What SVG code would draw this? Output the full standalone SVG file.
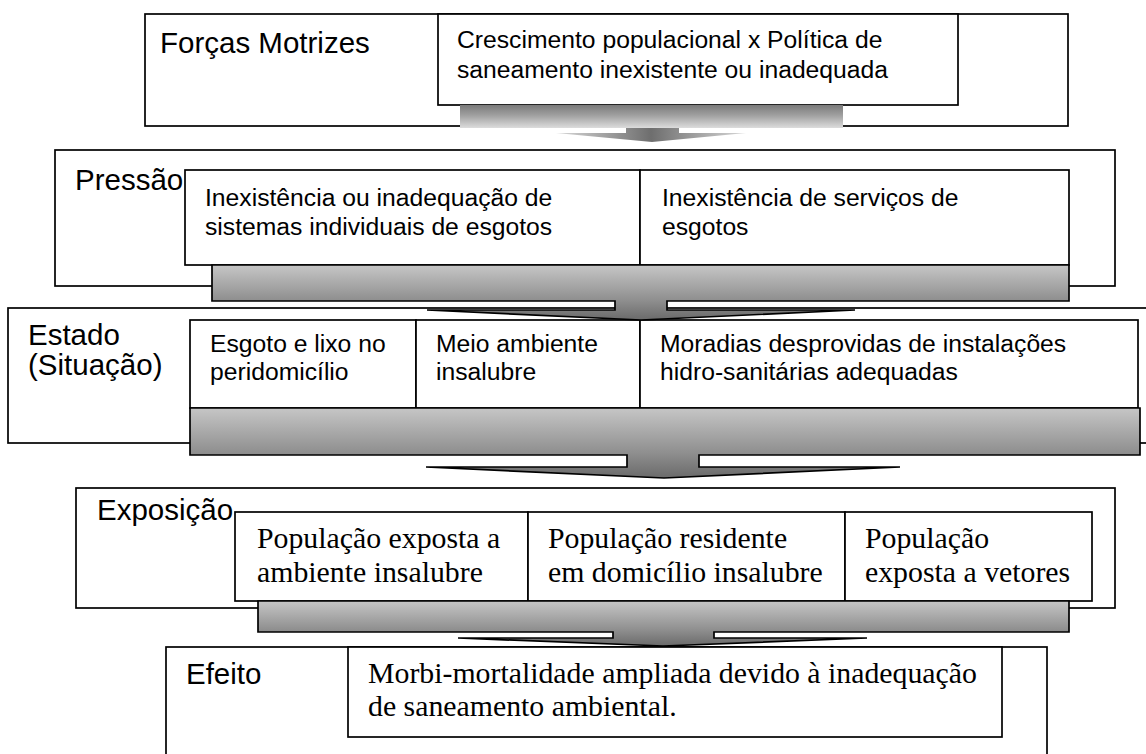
<svg xmlns="http://www.w3.org/2000/svg" width="1146" height="754" viewBox="0 0 1146 754">
<defs>
<style>
.box{fill:#fff;stroke:#000;stroke-width:1.7}
.lbl{font-family:"Liberation Sans",Arial,sans-serif;font-size:29.5px;fill:#000}
.txt{font-family:"Liberation Sans",Arial,sans-serif;font-size:24.7px;fill:#000}
.ser{font-family:"Liberation Serif","Times New Roman",serif;font-size:29.8px;fill:#000}
.arr{stroke:#000;stroke-width:1.7;stroke-linejoin:miter}
</style>
<linearGradient id="gArr" x1="0" y1="0" x2="0" y2="1">
<stop offset="0" stop-color="#c6c6c6"/>
<stop offset="0.65" stop-color="#8e8e8e"/>
<stop offset="1" stop-color="#6a6a6a"/>
</linearGradient>
<linearGradient id="gBar1" x1="0" y1="0" x2="0" y2="1">
<stop offset="0" stop-color="#7a7a7a"/>
<stop offset="0.45" stop-color="#a0a0a0"/>
<stop offset="1" stop-color="#dcdcdc"/>
</linearGradient>
<linearGradient id="gHead1" x1="0" y1="0" x2="1" y2="0">
<stop offset="0" stop-color="#d8d8d8"/>
<stop offset="0.5" stop-color="#6e6e6e"/>
<stop offset="1" stop-color="#d8d8d8"/>
</linearGradient>
</defs>

<g id="forcas-motrizes">
<rect class="box" x="145" y="14" width="923" height="112"/>
<rect class="box" x="438" y="14" width="520" height="91"/>
<text class="lbl" x="160" y="53">Forças Motrizes</text>
<text class="txt" x="457" y="48">Crescimento populacional x Política de</text>
<text class="txt" x="457" y="78">saneamento inexistente ou inadequada</text>
</g>

<g id="pressao">
<rect class="box" x="55" y="150" width="1060" height="136"/>
<rect class="box" x="185" y="170" width="455" height="95"/>
<rect class="box" x="640" y="170" width="429" height="95"/>
<text class="lbl" x="75" y="190">Pressão</text>
<text class="txt" x="205" y="206">Inexistência ou inadequação de</text>
<text class="txt" x="205" y="235">sistemas individuais de esgotos</text>
<text class="txt" x="662" y="206">Inexistência de serviços de</text>
<text class="txt" x="662" y="235">esgotos</text>
</g>

<g id="estado">
<rect class="box" x="8" y="308" width="1150" height="135"/>
<rect class="box" x="190" y="320" width="226" height="88"/>
<rect class="box" x="416" y="320" width="224" height="88"/>
<rect class="box" x="640" y="320" width="498" height="88"/>
<text class="lbl" x="28" y="345">Estado</text>
<text class="lbl" x="28" y="375">(Situação)</text>
<text class="txt" x="210" y="352">Esgoto e lixo no</text>
<text class="txt" x="210" y="380">peridomicílio</text>
<text class="txt" x="436" y="352">Meio ambiente</text>
<text class="txt" x="436" y="380">insalubre</text>
<text class="txt" x="660" y="352">Moradias desprovidas de instalações</text>
<text class="txt" x="660" y="380">hidro-sanitárias adequadas</text>
</g>

<g id="exposicao">
<rect class="box" x="76" y="488" width="1039" height="120"/>
<rect class="box" x="235" y="512" width="293" height="89"/>
<rect class="box" x="528" y="512" width="317" height="89"/>
<rect class="box" x="845" y="512" width="247" height="89"/>
<text class="lbl" x="97" y="520">Exposição</text>
<text class="ser" x="257" y="548">População exposta a</text>
<text class="ser" x="257" y="582">ambiente insalubre</text>
<text class="ser" x="548" y="548">População residente</text>
<text class="ser" x="548" y="582">em domicílio insalubre</text>
<text class="ser" x="865" y="548">População</text>
<text class="ser" x="865" y="582">exposta a vetores</text>
</g>

<g id="efeito">
<rect class="box" x="166" y="647" width="881" height="120"/>
<rect class="box" x="348" y="647" width="654" height="90"/>
<text class="lbl" x="186" y="684">Efeito</text>
<text class="ser" x="368" y="683">Morbi-mortalidade ampliada devido à inadequação</text>
<text class="ser" x="368" y="716">de saneamento ambiental.</text>
</g>

<g id="connectors">
<g id="arrow-1">
<rect x="460" y="105" width="383" height="23" fill="url(#gBar1)"/>
<polygon points="626,128 679,128 679,133 746,133 652,142 556,133 626,133" fill="url(#gHead1)"/>
</g>
<path id="arrow-2" class="arr" fill="url(#gArr)" d="M212,265 H1069 V301 H667 V310 H855 L641,320 L427,310 H615 V301 H212 Z"/>
<path id="arrow-3" class="arr" fill="url(#gArr)" d="M190,408 H1140 V455 H699 V467 H900 L664,478 L426,467 H627 V455 H190 Z"/>
<path id="arrow-4" class="arr" fill="url(#gArr)" d="M258,601 H1069 V632 H714 V638 H867 L663,646 L458,638 H613 V632 H258 Z"/>
</g>
</svg>
